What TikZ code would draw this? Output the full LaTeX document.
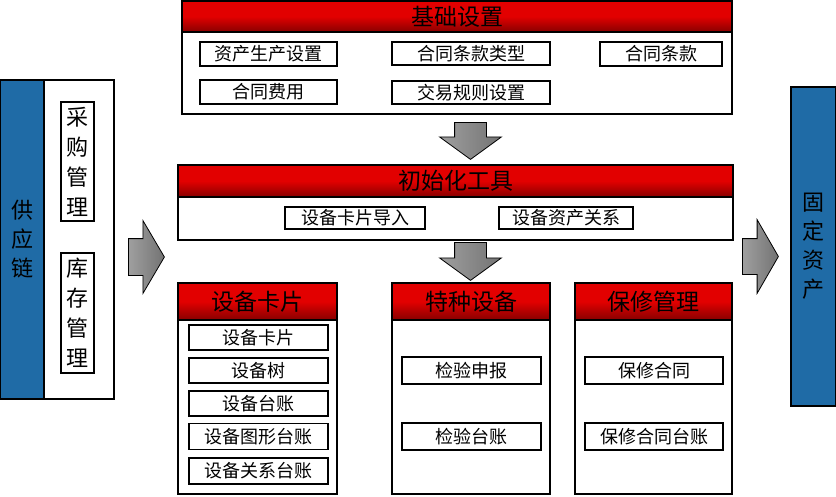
\documentclass[tikz,border=0pt]{standalone}
\usepackage{fontspec}
\setmainfont{Noto Sans CJK SC}
\usepackage{xcolor}
\usetikzlibrary{shapes.arrows,positioning}

\definecolor{hdred}{RGB}{226,0,0}
\definecolor{hddark}{RGB}{135,0,0}
\definecolor{sideblue}{RGB}{31,107,166}

\begin{document}
\begin{tikzpicture}[x=1pt,y=-1pt,
 box/.style={draw,line width=1.2pt,inner sep=0pt,font=\fontsize{18}{20}\selectfont},
 hdr/.style={box,top color=hdred,bottom color=hddark,middle color=hdred,font=\fontsize{23}{26}\selectfont},
 body/.style={draw,line width=1.2pt,fill=white},
 item/.style={box,fill=white},
 side/.style={draw,line width=1.2pt,fill=sideblue,align=center,font=\fontsize{22}{29}\selectfont},
 vitem/.style={box,fill=white,align=center,font=\fontsize{22}{30}\selectfont},
 blockarr/.style={single arrow,draw,line width=0.8pt,inner xsep=0pt,anchor=tail,left color=gray!75,right color=gray!90!black}]
 \useasboundingbox (0,0) rectangle (836,496);
 % supply chain
 \node[body,minimum width=70pt,minimum height=319pt] (scbody) at (79,239.5) {};
 \node[side,minimum width=44pt,minimum height=319pt] (sc) at (22,239.5) {供\\应\\链};
 \node[vitem,minimum width=33pt,minimum height=119pt] (cg) at (77.5,161.5) {采\\购\\管\\理};
 \node[vitem,minimum width=33pt,minimum height=120pt] (kc) at (77.5,313) {库\\存\\管\\理};
 \node[blockarr,minimum height=36pt,inner ysep=18pt,single arrow head extend=18pt,single arrow tip angle=119] (al) at (128,257) {};
 % basic settings
 \node[body,minimum width=550pt,minimum height=82pt] (basebody) at (457,73) {};
 \node[hdr,minimum width=550pt,minimum height=31pt] (base) at (457,16.5) {基础设置};
 \node[item,minimum width=137pt,minimum height=24pt] (zcsc) at (268.5,54) {资产生产设置};
 \node[item,minimum width=158pt,minimum height=23pt] (tklx) at (471,53.5) {合同条款类型};
 \node[item,minimum width=122pt,minimum height=24pt] (httk) at (661,54) {合同条款};
 \node[item,minimum width=137pt,minimum height=24pt] (htfy) at (268.5,92) {合同费用};
 \node[item,minimum width=158pt,minimum height=23pt] (jygz) at (471,92.5) {交易规则设置};
 \node[blockarr,rotate=-90,minimum height=37pt,inner ysep=15.5pt,single arrow head extend=15pt,single arrow tip angle=108] (a1) at (470.5,122) {};
 % init tools
 \node[body,minimum width=555pt,minimum height=43pt] (initbody) at (455.5,218.5) {};
 \node[hdr,minimum width=555pt,minimum height=32pt] (init) at (455.5,181) {初始化工具};
 \node[item,minimum width=140pt,minimum height=22pt] (kpdr) at (355,218) {设备卡片导入};
 \node[item,minimum width=134pt,minimum height=22pt] (zcgx) at (566,218) {设备资产关系};
 \node[blockarr,rotate=-90,minimum height=38pt,inner ysep=15.5pt,single arrow head extend=15pt,single arrow tip angle=108] (a2) at (470.5,242) {};
 % panel 1: equipment cards
 \node[body,minimum width=159pt,minimum height=174pt] (cardbody) at (257.5,407) {};
 \node[hdr,minimum width=159pt,minimum height=37pt] (card) at (257.5,301.5) {设备卡片};
 \node[item,minimum width=139pt,minimum height=25pt] (sbkp) at (258.5,337.5) {设备卡片};
 \node[item,minimum width=139pt,minimum height=25pt] (sbs) at (258.5,370.5) {设备树};
 \node[item,minimum width=139pt,minimum height=25pt] (sbtz) at (258.5,403.5) {设备台账};
 \node[item,minimum width=139pt,minimum height=26pt] (txtz) at (258.5,436.5) {设备图形台账};
 \node[item,minimum width=139pt,minimum height=26pt] (gxtz) at (258.5,471) {设备关系台账};
 % panel 2: special equipment
 \node[body,minimum width=158pt,minimum height=174pt] (tzbody) at (471,407) {};
 \node[hdr,minimum width=158pt,minimum height=37pt] (tz) at (471,301.5) {特种设备};
 \node[item,minimum width=139pt,minimum height=27pt] (jysb) at (471.5,370.5) {检验申报};
 \node[item,minimum width=139pt,minimum height=27pt] (jytz) at (471.5,436.5) {检验台账};
 % panel 3: warranty
 \node[body,minimum width=157pt,minimum height=174pt] (bxbody) at (653.5,407) {};
 \node[hdr,minimum width=157pt,minimum height=37pt] (bx) at (653.5,301.5) {保修管理};
 \node[item,minimum width=138pt,minimum height=27pt] (bxht) at (654,370.5) {保修合同};
 \node[item,minimum width=138pt,minimum height=27pt] (bxtz) at (654,436.5) {保修合同台账};
 % fixed assets
 \node[blockarr,minimum height=36pt,inner ysep=17.5pt,single arrow head extend=19pt,single arrow tip angle=120] (ar) at (742,256.5) {};
 \node[side,minimum width=45pt,minimum height=319pt] (gdzc) at (813.5,246.5) {固\\定\\资\\产};
\end{tikzpicture}
\end{document}
